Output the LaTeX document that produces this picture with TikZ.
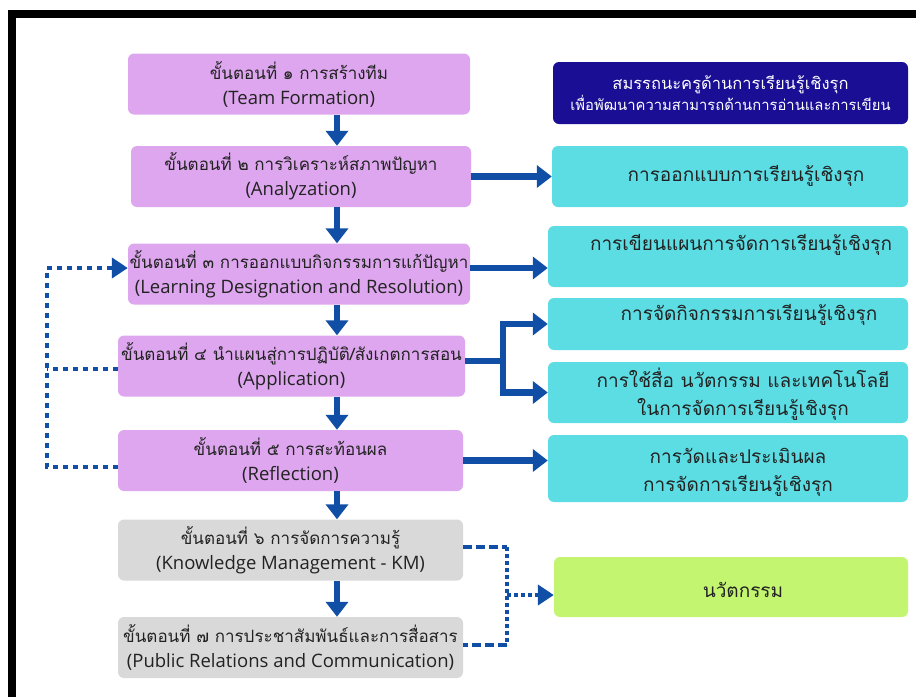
\documentclass[tikz,border=0pt]{standalone}
\usepackage{fontspec}
\setmainfont{Open Sans}
\newfontfamily\thai[Script=Thai]{Loma}
\usetikzlibrary{arrows.meta}

\definecolor{stepviolet}{HTML}{DDA6EE}
\definecolor{stepgray}{HTML}{D9D9D9}
\definecolor{outcyan}{HTML}{5CDDE4}
\definecolor{innogreen}{HTML}{C4F570}
\definecolor{headnavy}{HTML}{1A0F94}
\definecolor{flowblue}{HTML}{114FA6}
\definecolor{ink}{HTML}{222222}

\tikzstyle{stepbox}=[rectangle,rounded corners=6pt,fill=stepviolet,minimum height=61pt,inner sep=0pt,align=center,text=ink,font=\fontsize{18.5}{25}\selectfont]
\tikzstyle{km stepbox}=[stepbox,fill=stepgray]
\tikzstyle{outbox}=[rectangle,rounded corners=6pt,fill=outcyan,inner sep=0pt]
\tikzstyle{outtext}=[align=center,text=ink,font=\thai\fontsize{19}{28}\selectfont]
\tikzstyle{flow} = [draw,line width=6.5pt,flowblue,-{Triangle[width=22pt,length=15pt]}]
\tikzstyle{feedback} = [draw,line width=4.5pt,flowblue,dash pattern=on 5pt off 5pt]
\tikzstyle{km dash} = [draw,line width=4.5pt,flowblue,dash pattern=on 9pt off 4pt]
\tikzstyle{km dot} = [draw,line width=4.5pt,flowblue,dash pattern=on 4pt off 3pt]

\begin{document}
\begin{tikzpicture}[x=1pt,y=-1pt]
\useasboundingbox (0,0) rectangle (916,697);
\fill[black] (8,10) rectangle (916,18);
\fill[black] (8,10) rectangle (16,697);

% steps
\foreach \pos/\name/\w/\iskm/\thaitxt/\engtxt in {
    {(299,84)/s1/342/0/ขั้นตอนที่ ๑ การสร้างทีม/(Team Formation)},
    {(301,176.5)/s2/340/0/ขั้นตอนที่ ๒ การวิเคราะห์สภาพปัญหา/(Analyzation)},
    {(299,274)/s3/342/0/ขั้นตอนที่ ๓ การออกแบบกิจกรรมการแก้ปัญหา/(Learning Designation and Resolution)},
    {(291.5,366)/s4/347/0/{ขั้นตอนที่ ๔ นำแผนสู่การปฏิบัติ/สังเกตการสอน}/(Application)},
    {(290.5,460.5)/s5/345/0/ขั้นตอนที่ ๕ การสะท้อนผล/(Reflection)},
    {(290.5,550)/s6/345/1/ขั้นตอนที่ ๖ การจัดการความรู้/(Knowledge Management - KM)},
    {(290.5,647.5)/s7/345/1/ขั้นตอนที่ ๗ การประชาสัมพันธ์และการสื่อสาร/(Public Relations and Communication)}}{
  \ifnum\iskm=0
  \node[stepbox,minimum width=\w pt] (\name) at \pos {{\thai\fontsize{17}{25}\selectfont \thaitxt}\\\engtxt};
  \else
  \node[km stepbox,minimum width=\w pt] (\name) at \pos {{\thai\fontsize{17}{25}\selectfont \thaitxt}\\\engtxt};
  \fi
}

% outcomes
\node[outbox,fill=headnavy,minimum width=355pt,minimum height=62pt,align=center,text=white,font=\thai] (head) at (730.5,93)
  {{\fontsize{16.5}{21}\selectfont สมรรถนะครูด้านการเรียนรู้เชิงรุก}\\{\fontsize{14.8}{21}\selectfont เพื่อพัฒนาความสามารถด้านการอ่านและการเขียน}};
\foreach \pos/\name/\w/\h in {{(730,176.5)/c1/356/61}, {(728,256.5)/c2/360/61},
                              {(728,324)/c3/360/52}, {(728,392.5)/c4/360/61},
                              {(728,468.5)/c5/360/67}}
  \node[outbox,minimum width=\w pt,minimum height=\h pt] (\name) at \pos {};
\node[outbox,fill=innogreen,minimum width=354pt,minimum height=60pt] (g) at (731,587) {};

\foreach \pos/\name/\txt in {{(746,176)/c1t/การออกแบบการเรียนรู้เชิงรุก},
                             {(741,245)/c2t/การเขียนแผนการจัดการเรียนรู้เชิงรุก},
                             {(749,315)/c3t/การจัดกิจกรรมการเรียนรู้เชิงรุก},
                             {(743,394)/c4t/{การใช้สื่อ นวัตกรรม และเทคโนโลยี\\ในการจัดการเรียนรู้เชิงรุก}},
                             {(738,472)/c5t/{การวัดและประเมินผล\\การจัดการเรียนรู้เชิงรุก}},
                             {(743,590)/gt/นวัตกรรม}}
  \node[outtext] (\name) at \pos {\txt};

% main flow
\coordinate (ax) at (337,0);
\foreach \a/\b in {s1/s2,s2/s3,s3/s4,s4/s5,s5/s6,s6/s7}
  \path[flow] (\a.south -| ax) -- (\b.north -| ax);

\coordinate (r3) at (0,268);
\coordinate (fk) at (503,361);
\path[flow] (s2.east) -- (c1.west);
\path[flow] (s3.east |- r3) -- (c2.west |- r3);
\path[draw,line width=6.5pt,flowblue] (s4.east |- fk) -- (fk);
\path[flow] (fk) |- (c3.west);
\path[flow] (fk) |- (c4.west);
\path[flow] (s5.east) -- (s5.east -| c5.west);

% feedback loop
\coordinate (fbtop) at (47,268);
\coordinate (fbmid) at (47,369);
\coordinate (fbbot) at (47,467);
\path[feedback,-{Triangle[width=20pt,length=16pt]}] (s5.west |- fbbot) -- (fbbot) -- (fbtop) -- (s3.west |- fbtop);
\path[feedback] (s4.west |- fbmid) -- (fbmid);

% km to innovation
\coordinate (kmtop) at (507,547);
\coordinate (kmmid) at (507,595);
\coordinate (kmbot) at (507,645);
\path[km dash] (s6.east |- kmtop) -- (kmtop);
\path[km dot] (kmtop) -- (kmbot);
\path[km dash] (kmbot) -- (s7.east |- kmbot);
\path[km dot,-{Triangle[width=20pt,length=16pt]}] (kmmid) -- (g.west |- kmmid);
\end{tikzpicture}
\end{document}
